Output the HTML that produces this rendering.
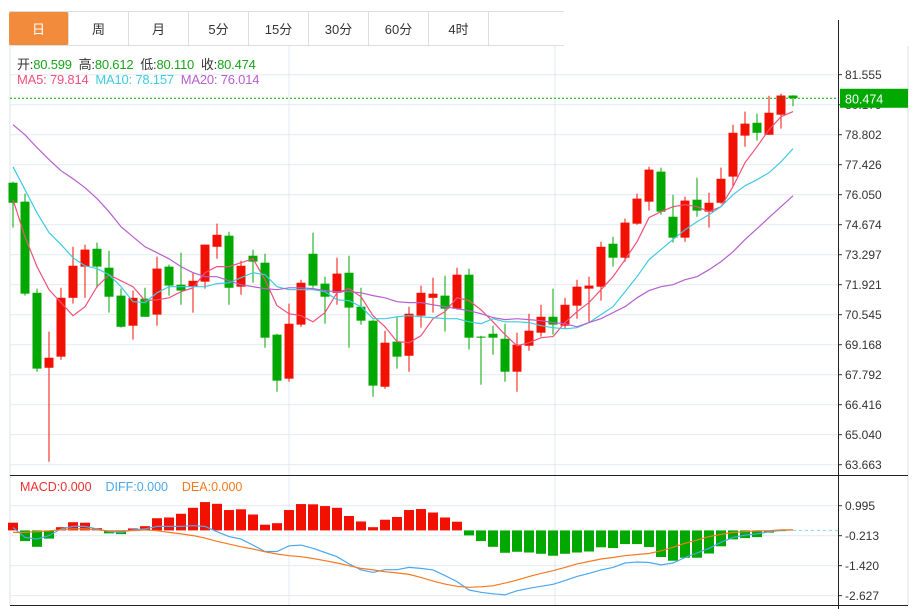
<!DOCTYPE html>
<html><head><meta charset="utf-8"><style>
html,body{margin:0;padding:0;background:#fff;width:919px;height:609px;overflow:hidden;font-family:"Liberation Sans","Noto Sans CJK SC",sans-serif}
.tabs{position:absolute;left:9px;top:11px;height:35px;display:flex;border-top:1px solid #ddd}
.tab{width:60px;height:34px;border-right:1px solid #ddd;border-bottom:1px solid #ddd;font-size:13px;color:#333;display:flex;align-items:center;justify-content:center;box-sizing:border-box}
.tab.on{background:#f28c3c;color:#fff;border-radius:2px}
svg{position:absolute;left:0;top:0}
</style></head><body>
<div class="tabs">
<div class="tab on">日</div>
<div class="tab">周</div>
<div class="tab">月</div>
<div class="tab">5分</div>
<div class="tab">15分</div>
<div class="tab">30分</div>
<div class="tab">60分</div>
<div class="tab">4时</div>
<div class="tab" style="width:75px;border-right:none"></div>
</div>
<svg id="chart" width="919" height="609"></svg>
<script>
const opens=[76.60,75.73,71.55,68.11,68.62,71.32,72.75,73.57,72.70,71.42,70.04,71.28,70.55,72.75,71.92,71.83,72.06,73.66,74.17,71.83,73.25,72.93,69.63,67.61,70.09,73.34,71.97,71.55,72.47,70.91,70.27,67.24,69.31,68.66,70.50,71.32,71.42,70.82,72.38,69.54,69.67,69.44,67.93,69.12,69.72,70.45,70.04,70.96,71.74,71.83,73.80,73.16,74.72,75.73,77.11,75.04,74.08,75.82,75.27,75.68,76.88,78.76,79.35,78.80,79.72,80.599];
const highs=[76.65,76.10,71.74,69.77,71.78,73.66,73.76,73.85,73.48,71.74,71.65,71.78,73.21,72.84,73.39,72.47,73.76,74.72,74.35,73.02,73.53,73.34,69.67,71.05,72.15,74.31,72.29,73.16,73.25,71.78,70.32,69.81,70.45,70.91,71.88,72.24,72.33,72.70,72.66,69.58,70.04,70.13,69.72,70.59,71.00,71.74,71.32,72.15,72.29,73.89,74.12,74.95,76.10,77.33,77.29,76.05,75.96,76.83,76.14,77.29,79.26,79.86,79.77,80.59,80.68,80.612];
const lows=[74.54,71.42,67.93,63.80,68.48,71.05,71.32,71.78,70.64,69.95,69.40,70.45,70.04,71.42,71.00,70.64,71.74,73.11,71.00,71.46,72.01,69.03,67.01,67.47,69.99,71.78,70.13,71.00,69.03,70.09,66.78,67.15,68.07,67.93,69.95,70.64,69.77,70.77,68.94,67.33,68.71,67.47,67.01,68.89,69.54,69.63,69.90,70.36,70.22,71.19,72.75,72.98,74.67,75.32,75.13,73.85,73.89,75.04,74.54,75.64,76.42,78.25,78.53,78.80,79.08,80.110];
const closes=[75.68,71.51,68.07,68.57,71.32,72.79,73.53,72.75,71.37,69.99,71.32,70.45,72.66,71.88,71.65,72.10,73.76,74.21,71.78,72.79,72.98,69.49,67.52,70.13,72.01,71.88,71.37,72.43,70.87,70.27,67.29,69.26,68.62,70.59,71.55,71.51,70.82,72.38,69.49,69.49,69.49,67.93,69.17,69.81,70.45,70.09,71.00,71.83,71.88,73.66,73.16,74.77,75.87,77.20,75.27,74.08,75.78,75.32,75.68,76.78,78.89,79.31,78.89,79.81,80.60,80.474];
const ma5=[75.82,74.12,72.75,71.69,71.10,70.50,70.91,71.83,72.38,72.10,71.83,71.19,71.23,71.32,71.60,71.78,72.47,72.75,72.75,72.93,73.11,72.15,70.96,70.59,70.50,70.22,70.64,71.55,71.74,71.37,70.50,69.99,69.31,69.26,69.58,70.36,70.68,71.32,71.19,70.77,70.22,69.63,69.12,69.26,69.49,69.54,70.18,70.68,71.10,71.69,72.29,73.07,73.89,75.00,75.27,75.50,75.59,75.50,75.27,75.50,76.42,77.52,78.25,79.03,79.63,79.86];
const ma10=[77.33,76.28,75.22,74.31,73.76,73.16,72.79,72.66,72.38,71.83,71.14,71.10,71.55,71.83,71.83,71.83,71.83,71.97,72.01,72.24,72.47,72.38,71.83,71.69,71.69,71.69,71.60,71.23,71.19,70.91,70.36,70.36,70.45,70.50,70.45,70.41,70.36,70.36,70.22,70.13,70.36,70.22,70.22,70.18,70.04,69.95,69.90,69.95,70.18,70.55,70.91,71.60,72.29,73.07,73.53,73.99,74.44,74.81,75.13,75.50,76.05,76.46,76.74,77.06,77.56,78.16];
const ma20=[79.26,78.80,78.21,77.66,77.15,76.78,76.37,75.87,75.27,74.58,74.12,73.66,73.39,73.11,72.75,72.47,72.29,72.29,72.10,71.92,71.83,71.74,71.69,71.78,71.78,71.74,71.65,71.60,71.60,71.55,71.42,71.32,71.14,71.10,71.10,71.00,70.91,70.82,70.73,70.59,70.41,70.32,70.36,70.32,70.27,70.18,70.13,69.99,70.18,70.36,70.64,70.91,71.32,71.65,71.83,71.92,72.15,72.29,72.61,72.98,73.43,73.99,74.49,75.00,75.50,76.00];
const macd=[0.31,-0.43,-0.66,-0.33,0.13,0.33,0.31,0.09,-0.12,-0.15,0.08,0.17,0.49,0.52,0.67,0.91,1.14,1.07,0.82,0.85,0.64,0.23,0.29,0.82,1.06,1.05,0.98,0.91,0.58,0.36,0.13,0.43,0.54,0.82,0.86,0.72,0.52,0.35,-0.20,-0.43,-0.66,-0.90,-0.86,-0.89,-0.94,-1.02,-0.94,-0.89,-0.85,-0.68,-0.71,-0.55,-0.55,-0.67,-1.07,-1.22,-1.10,-1.10,-0.93,-0.64,-0.36,-0.31,-0.27,-0.09,-0.03,0];
const diff=[0.12,-0.28,-0.35,-0.21,0.06,0.16,0.16,0.06,-0.05,-0.08,0.02,0.06,0.16,0.16,0.16,0.19,0.16,-0.05,-0.25,-0.35,-0.59,-0.85,-0.85,-0.62,-0.59,-0.72,-0.89,-1.06,-1.35,-1.59,-1.69,-1.58,-1.58,-1.49,-1.53,-1.59,-1.82,-2.06,-2.40,-2.49,-2.55,-2.59,-2.43,-2.33,-2.25,-2.17,-2.02,-1.85,-1.73,-1.59,-1.49,-1.31,-1.27,-1.29,-1.39,-1.31,-1.09,-0.91,-0.72,-0.48,-0.28,-0.19,-0.14,-0.05,0,0.02];
const dea=[-0.08,-0.08,-0.05,-0.02,0.03,0.06,0.06,0.02,-0.02,-0.02,-0.01,0.02,-0.01,-0.08,-0.14,-0.21,-0.31,-0.44,-0.55,-0.66,-0.75,-0.86,-0.95,-1.02,-1.06,-1.13,-1.22,-1.31,-1.42,-1.53,-1.59,-1.66,-1.71,-1.77,-1.89,-2.04,-2.16,-2.25,-2.29,-2.27,-2.23,-2.12,-2.00,-1.86,-1.73,-1.62,-1.49,-1.35,-1.25,-1.15,-1.09,-1.02,-0.97,-0.93,-0.82,-0.68,-0.52,-0.39,-0.25,-0.16,-0.08,-0.05,-0.02,-0.01,0.02,0.02];
const priceTicks=["81.555","80.179","78.802","77.426","76.050","74.674","73.297","71.921","70.545","69.168","67.792","66.416","65.040","63.663"];
const macdTicks=["0.995","-0.213","-1.420","-2.627"];
const lastPrice=80.474;

const NS="http://www.w3.org/2000/svg";
const svg=document.getElementById('chart');
function el(tag,attrs,parent){const e=document.createElementNS(NS,tag);for(const k in attrs)e.setAttribute(k,attrs[k]);(parent||svg).appendChild(e);return e;}
const X0=10,X1=838;
const xOf=i=>13+i*12;
const yP=v=>74.7+(81.555-v)*30/1.3763;
const yM=v=>535.7-(v+0.213)*30/1.2075;
const UP='#f21000',DN='#00a800';

el('rect',{x:0,y:46,width:919,height:563,fill:'#fff'});
for(let k=0;k<14;k++){const y=yP(parseFloat(priceTicks[k]));
 const g=el('line',{x1:X0,x2:X1,y1:y,y2:y,stroke:'#e3eaf0','stroke-width':1});
 
 
 el('line',{x1:X1,x2:X1+4,y1:y,y2:y,stroke:'#333'});
 const tx=el('text',{x:845,y:y+4.5,'font-size':12,fill:'#333','font-family':'Liberation Sans, sans-serif'});
 tx.textContent=priceTicks[k];
 
 
}
[289,555].forEach(x=>{el('line',{x1:x,x2:x,y1:46,y2:605,stroke:'#e3eaf0'});});
el('line',{x1:X0,x2:X0,y1:46,y2:605,stroke:'#dde4ea'});
el('line',{x1:908,x2:908,y1:46,y2:605,stroke:'#ddd'});
macdTicks.forEach(s=>{const y=yM(parseFloat(s));
 el('line',{x1:X0,x2:X1,y1:y,y2:y,stroke:'#e3eaf0'});
 el('line',{x1:X1,x2:X1+4,y1:y,y2:y,stroke:'#333'});
 const tx=el('text',{x:845,y:y+4.5,'font-size':12,fill:'#333'});
 tx.textContent=s;
 
 
});
el('line',{x1:X0,x2:908,y1:475.5,y2:475.5,stroke:'#222'});
el('line',{x1:X0,x2:908,y1:605.5,y2:605.5,stroke:'#222'});
el('line',{x1:X1+0.5,x2:X1+0.5,y1:20,y2:609,stroke:'#222'});

for(let i=0;i<opens.length;i++){
 const up=closes[i]>=opens[i];const c=up?UP:DN;const x=xOf(i);
 const g=el('g',{});
 
 
 el('line',{x1:x,x2:x,y1:yP(highs[i]),y2:yP(lows[i]),stroke:c,'stroke-width':1},g);
 const top=yP(Math.max(opens[i],closes[i])),bot=yP(Math.min(opens[i],closes[i]));
 el('rect',{x:x-4.5,y:top,width:9,height:Math.max(1,bot-top),fill:c},g);
}
function line(arr,yf,color,name){
 const p=el('polyline',{points:arr.map((v,i)=>xOf(i)+','+yf(v).toFixed(1)).join(' '),fill:'none',stroke:color,'stroke-width':1.2});
 
 
}
line(ma5,yP,'#f0507a','ma5-line');
line(ma10,yP,'#3ecbe0','ma10-line');
line(ma20,yP,'#b65fcf','ma20-line');
const ly=yP(lastPrice);
el('line',{x1:X0,x2:X1,y1:ly,y2:ly,stroke:'#00a800','stroke-dasharray':'2,2'});
const box=el('rect',{x:840,y:ly-9.5,width:68,height:19,fill:'#00a800'});


const lt=el('text',{x:845,y:ly+5,'font-size':12.5,fill:'#fff'});lt.textContent=lastPrice.toFixed(3);

for(let i=0;i<macd.length;i++){
 const y0=yM(0),y1=yM(macd[i]);
 const r=el('rect',{x:xOf(i)-5,y:Math.min(y0,y1),width:10,height:Math.abs(y1-y0),fill:macd[i]>=0?UP:DN});
 
 
}
el('line',{x1:xOf(macd.length-1),x2:X1,y1:yM(0),y2:yM(0),stroke:'#8fd4ee','stroke-dasharray':'3,3'});
line(diff,yM,'#4aa8f0','diff-line');
line(dea,yM,'#f57a1f','dea-line');
</script>
<div style="position:absolute;left:17px;top:54px;font-size:13px;color:#333;white-space:nowrap;letter-spacing:-0.2px">开:<span style="color:#1aa31a">80.599</span>&nbsp; 高:<span style="color:#1aa31a">80.612</span>&nbsp; 低:<span style="color:#1aa31a">80.110</span>&nbsp; 收:<span style="color:#1aa31a">80.474</span></div>
<div style="position:absolute;left:17px;top:72px;font-size:13px;white-space:nowrap;letter-spacing:-0.2px"><span style="color:#f0507a">MA5: 79.814</span>&nbsp; <span style="color:#3ecbe0">MA10: 78.157</span>&nbsp; <span style="color:#b65fcf">MA20: 76.014</span></div>
<div style="position:absolute;left:20px;top:480px;font-size:12.5px;white-space:nowrap"><span style="color:#f03030">MACD:0.000</span>&nbsp;&nbsp;&nbsp; <span style="color:#4aa8f0">DIFF:0.000</span>&nbsp;&nbsp;&nbsp; <span style="color:#f57a1f">DEA:0.000</span></div>
</body></html>
